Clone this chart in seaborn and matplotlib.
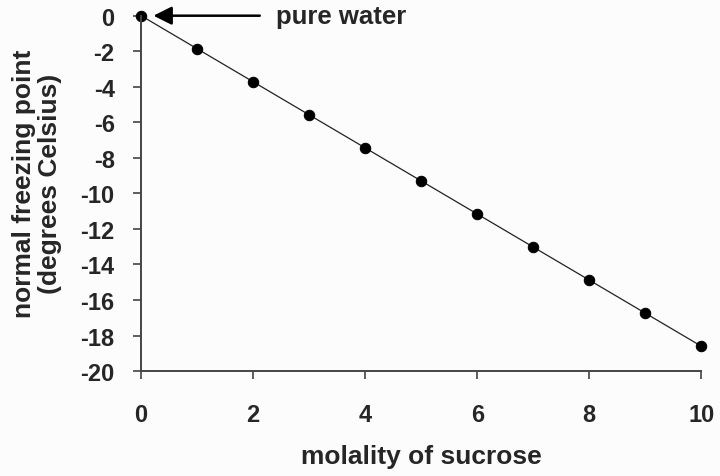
import matplotlib
matplotlib.use("Agg")
import matplotlib.pyplot as plt
import numpy as np
import pandas as pd
import seaborn as sns

# freezing point of sucrose solutions
molality = [0, 1, 2, 3, 4, 5, 6, 7, 8, 9, 10]
freezing_point = [0, -1.86, -3.72, -5.58, -7.44, -9.3, -11.16, -13.02, -14.88, -16.74, -18.6]
x_ticks = [0, 2, 4, 6, 8, 10]
y_ticks = [0, -2, -4, -6, -8, -10, -12, -14, -16, -18, -20]

df = pd.DataFrame({"molality": molality, "fp": freezing_point})

sns.set_style("ticks")
plt.rcParams['font.family'] = ['Liberation Sans', 'DejaVu Sans']
plt.rcParams['font.weight'] = 'bold'

fig = plt.figure(figsize=(7.2, 4.77), dpi=100, facecolor="#fcfcfc")
ax = fig.add_axes([0.196, 0.22, 0.778, 0.745])
ax.set_facecolor("#fcfcfc")

sns.lineplot(data=df, x="molality", y="fp", ax=ax, color="#222222", linewidth=0.9,
             marker="o", markersize=7.5, markerfacecolor="black", markeredgecolor="black",
             clip_on=False)

ax.set_xlim(0, 10)
ax.set_ylim(-20, 0)
ax.set_xticks(x_ticks)
ax.set_yticks(y_ticks)
ax.set_xticklabels([str(v) for v in x_ticks], fontsize=17, fontweight="bold")
ax.set_yticklabels([str(v) for v in y_ticks], fontsize=17, fontweight="bold")
ax.tick_params(axis="x", length=6, width=1.2, pad=17, color="#444444")
ax.tick_params(axis="y", length=6, width=1.2, pad=13, color="#444444")
for s in ["top", "right"]:
    ax.spines[s].set_visible(False)
for s in ["left", "bottom"]:
    ax.spines[s].set_color("#444444")
    ax.spines[s].set_linewidth(1.4)

ax.set_xlabel("molality of sucrose", fontsize=19, fontweight="bold")
ax.xaxis.set_label_coords(0.5, -0.205)
ax.set_ylabel("normal freezing point\n(degrees Celsius)", fontsize=19, fontweight="bold",
              linespacing=1.1)
ax.yaxis.set_label_coords(-0.141, 0.53)

ax.annotate("pure water", xy=(0.22, 0), xytext=(2.4, 0), fontsize=18.5, fontweight="bold",
            va="center", ha="left", annotation_clip=False,
            arrowprops=dict(arrowstyle="-|>,head_length=0.6,head_width=0.3", color="black",
                            lw=1.8, shrinkA=9, shrinkB=0))

plt.savefig("out.png", dpi=100, facecolor=fig.get_facecolor())
